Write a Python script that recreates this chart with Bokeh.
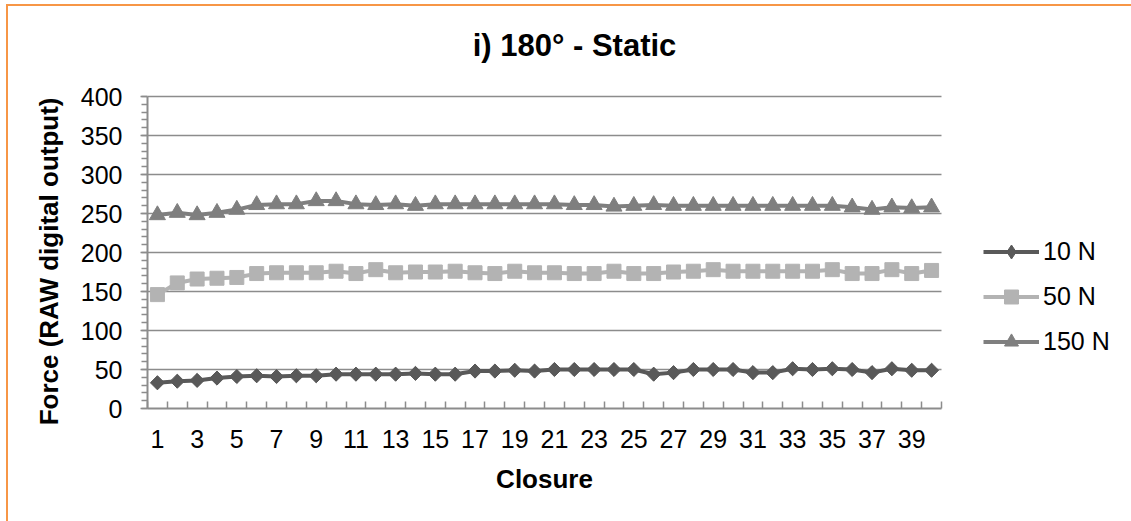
import math

from bokeh.embed import file_html
from bokeh.models import (FixedTicker, Label, Legend, LegendItem, Range1d,
                          Title)
from bokeh.plotting import figure
from bokeh.resources import INLINE

# ---- data -------------------------------------------------------------
closures = list(range(1, 41))

force_10n = [33, 35, 36, 39, 41, 42, 41, 42, 42, 44,
             44, 44, 44, 45, 44, 44, 48, 48, 49, 48,
             50, 50, 50, 50, 50, 44, 46, 50, 50, 50,
             46, 46, 51, 50, 51, 50, 46, 51, 49, 49]

force_50n = [146, 161, 166, 167, 168, 173, 174, 174, 174, 176,
             173, 178, 174, 175, 175, 176, 174, 173, 176, 174,
             174, 173, 173, 176, 173, 173, 175, 176, 178, 176,
             176, 176, 176, 176, 178, 173, 173, 178, 173, 177]

force_150n = [248, 251, 248, 251, 255, 261, 262, 262, 266, 266,
              262, 261, 262, 260, 262, 262, 262, 262, 262, 262,
              262, 261, 261, 259, 260, 261, 260, 260, 260, 260,
              260, 260, 260, 260, 260, 258, 255, 258, 257, 258]

series_labels = ["10 N", "50 N", "150 N"]
y_ticks = [0, 50, 100, 150, 200, 250, 300, 350, 400]
y_minor_ticks = list(range(0, 401, 10))
x_tick_labels = closures[::2]

title_text = "i) 180° - Static"
x_title = "Closure"
y_title = "Force (RAW digital output)"

# ---- layout -----------------------------------------------------------
W, H = 1131, 521
PLOT_LEFT, PLOT_RIGHT = 147, 941      # pixel extent of the category axis
PLOT_TOP, PLOT_BOTTOM = 96, 408       # pixel extent of the value axis

x_lo, x_hi = closures[0] - 0.5, closures[-1] + 0.5
y_lo, y_hi = y_ticks[0], y_ticks[-1]
px_x = (PLOT_RIGHT - PLOT_LEFT) / (x_hi - x_lo)
px_y = (PLOT_BOTTOM - PLOT_TOP) / (y_hi - y_lo)

# the frame runs to the right and top edges of the canvas so that the
# legend and the title sit inside it; axes and grid stop at the data extent
x_range = Range1d(x_lo, x_hi + (W - PLOT_RIGHT) / px_x)
y_range = Range1d(y_lo, y_hi + PLOT_TOP / px_y)

FONT = "Liberation Sans"
AXIS_GREY = "#8c8c8c"
BORDER_ORANGE = "#F79646"
colors = ["#595959", "#b3b3b3", "#7f7f7f"]
markers = ["square", "square", "triangle"]
marker_sizes = [10, 14, 16]
marker_angles = [math.pi / 4, 0, 0]

p = figure(width=W, height=H, output_backend="svg", toolbar_location=None,
           x_range=x_range, y_range=y_range,
           min_border_left=PLOT_LEFT, min_border_right=0,
           min_border_top=0, min_border_bottom=H - PLOT_BOTTOM)
p.background_fill_color = None
p.border_fill_color = None
p.outline_line_color = None

# chart-area frame: orange rule along the top and left edges
p.styles = {
    "background": (
        f"linear-gradient({BORDER_ORANGE},{BORDER_ORANGE}) 6px 4px / 2px 100% no-repeat, "
        f"linear-gradient({BORDER_ORANGE},{BORDER_ORANGE}) 6px 4px / 100% 2px no-repeat, "
        "white"
    ),
}

# horizontal grid, limited to the data extent
p.xgrid.visible = False
grid = p.ygrid[0]
grid.ticker = FixedTicker(ticks=y_ticks)
grid.bounds = (y_lo, y_hi)
grid.grid_line_color = AXIS_GREY
grid.grid_line_width = 1.5
if "cross_bounds" in grid.properties():
    grid.cross_bounds = (x_lo, x_hi)
else:
    grid.visible = False
    p.segment(x0=[x_lo] * len(y_ticks), y0=y_ticks, x1=[x_hi] * len(y_ticks),
              y1=y_ticks, line_color=AXIS_GREY, line_width=1.5)

# y axis
ya = p.yaxis[0]
ya.bounds = (y_lo, y_hi)
ya.ticker = FixedTicker(ticks=y_ticks, minor_ticks=y_minor_ticks)
ya.axis_line_color = AXIS_GREY
ya.axis_line_width = 2
ya.major_tick_line_color = AXIS_GREY
ya.major_tick_line_width = 1.5
ya.major_tick_in = 0
ya.major_tick_out = 7
ya.minor_tick_line_color = AXIS_GREY
ya.minor_tick_line_width = 1.5
ya.minor_tick_in = 0
ya.minor_tick_out = 6
ya.major_label_standoff = 18
ya.major_label_text_font = FONT
ya.major_label_text_font_size = "25px"
ya.major_label_text_color = "black"

# x axis: labels on every other closure, tick marks between categories
xa = p.xaxis[0]
xa.bounds = (x_lo, x_hi)
boundaries = [c - 0.5 for c in closures] + [x_hi]
xa.ticker = FixedTicker(ticks=x_tick_labels, minor_ticks=boundaries)
xa.axis_line_color = AXIS_GREY
xa.axis_line_width = 2
xa.major_tick_line_color = None
xa.major_tick_in = 0
xa.major_tick_out = 0
xa.minor_tick_line_color = AXIS_GREY
xa.minor_tick_line_width = 1.5
xa.minor_tick_in = 7
xa.minor_tick_out = 0
xa.major_label_standoff = 21
xa.major_label_text_font = FONT
xa.major_label_text_font_size = "25px"
xa.major_label_text_color = "black"

# axis titles, centred on the axis extent rather than on the whole frame
title_style = dict(text_font=FONT, text_font_style="bold",
                   text_font_size="26px", text_color="black")
p.add_layout(Title(text=x_title, align="left", offset=348.6,
                   vertical_align="top", standoff=26, **title_style), "below")
p.add_layout(Title(text=y_title, align="right", offset=97,
                   vertical_align="bottom", standoff=27, **title_style), "left")

# series
items = []
for label, ys, color, marker, size, angle in zip(
        series_labels, [force_10n, force_50n, force_150n],
        colors, markers, marker_sizes, marker_angles):
    ln = p.line(closures, ys, line_color=color, line_width=4, line_join="round")
    key = [ln]
    if angle:
        # legend keys ignore marker angle: a diamond key drawn beneath the
        # rotated squares (and hidden by them) stands in for it
        key.append(p.scatter(closures, ys, marker="diamond", size=size * 1.3,
                             fill_color=color, line_color=color))
    sc = p.scatter(closures, ys, marker=marker, size=size, angle=angle,
                   fill_color=color, line_color=color)
    if not angle:
        key.append(sc)
    items.append(LegendItem(label=label, renderers=key))

legend = Legend(items=items, location=(983 - PLOT_LEFT, PLOT_BOTTOM - 358.5))
legend.glyph_width = 56
legend.glyph_height = 35
legend.label_height = 35
legend.spacing = 10
legend.label_standoff = 4
legend.padding = 0
legend.margin = 0
legend.border_line_color = None
legend.background_fill_alpha = 0
legend.label_text_font = FONT
legend.label_text_font_size = "25px"
legend.label_text_color = "black"
p.add_layout(legend, "center")

# chart title, centred on the chart area
p.add_layout(Label(x=x_lo + (574 - PLOT_LEFT) / px_x,
                   y=y_lo + (PLOT_BOTTOM - 45) / px_y,
                   text=title_text, text_align="center", text_baseline="middle",
                   text_font=FONT, text_font_style="bold", text_font_size="31px",
                   text_color="black"))

open("out.html", "w").write(file_html(p, INLINE))
